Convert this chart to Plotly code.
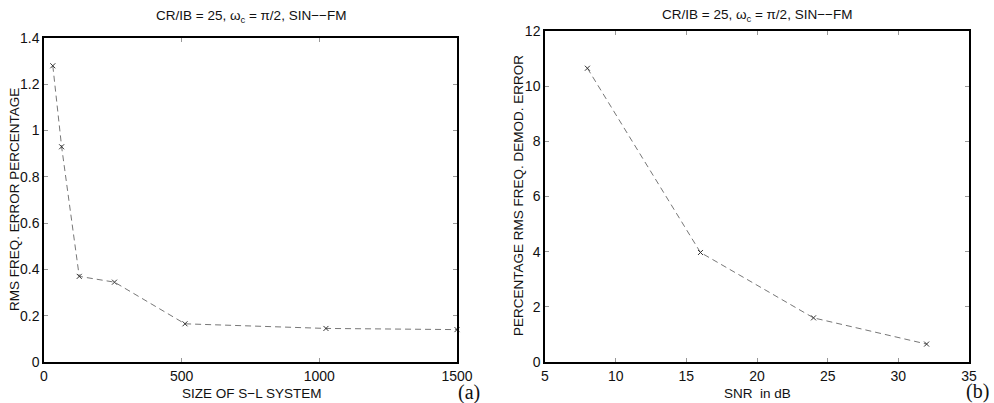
import plotly.graph_objects as go

# Panel (a)
size_sl = [32, 64, 128, 256, 512, 1024, 1500]
rms_err_a = [1.28, 0.93, 0.37, 0.345, 0.165, 0.145, 0.14]
# Panel (b)
snr_db = [8, 16, 24, 32]
rms_err_b = [10.65, 3.97, 1.6, 0.65]

title_txt = "CR/IB = 25, ω<sub>c</sub> = π/2, SIN−−FM"

W, H = 994, 403
fig = go.Figure()
line_style = dict(color="#777777", width=1, dash="6px,4px")
marker_style = dict(symbol="x-thin", size=5, color="#333333", line=dict(width=1, color="#333333"))

fig.add_trace(go.Scatter(x=size_sl, y=rms_err_a, mode="lines+markers", line=line_style,
                         marker=marker_style, xaxis="x", yaxis="y", cliponaxis=False, showlegend=False))
fig.add_trace(go.Scatter(x=snr_db, y=rms_err_b, mode="lines+markers", line=line_style,
                         marker=marker_style, xaxis="x2", yaxis="y2", cliponaxis=False, showlegend=False))

font = dict(family="Liberation Sans, Arial, sans-serif", size=14, color="#111111")
ax_common = dict(showline=True, linecolor="black", linewidth=1.5, mirror="ticks", ticks="inside",
                 ticklen=4, tickcolor="#999999", showgrid=False, zeroline=False, tickfont=font,
                 automargin=False)

def px_x(p):
    return p / W

def px_y(p):
    return (H - p) / H

fig.update_layout(
    width=W, height=H, margin=dict(l=0, r=0, t=0, b=0, pad=0),
    paper_bgcolor="white", plot_bgcolor="white",
    xaxis=dict(domain=[px_x(44), px_x(457)], range=[0, 1500], tickvals=[0, 500, 1000, 1500], anchor="y", **ax_common),
    yaxis=dict(domain=[px_y(362), px_y(38)], range=[0, 1.4], tickvals=[0, 0.2, 0.4, 0.6, 0.8, 1, 1.2, 1.4],
               ticktext=["0", "0.2", "0.4", "0.6", "0.8", "1", "1.2", "1.4"], anchor="x", **ax_common),
    xaxis2=dict(domain=[px_x(545), px_x(969)], range=[5, 35], tickvals=[5, 10, 15, 20, 25, 30, 35], anchor="y2", **ax_common),
    yaxis2=dict(domain=[px_y(362), px_y(31)], range=[0, 12], tickvals=[0, 2, 4, 6, 8, 10, 12], anchor="x2", **ax_common),
)

ann_font = dict(family="Liberation Sans, Arial, sans-serif", size=13.5, color="#111111")
anns = [
    dict(text=title_txt, x=px_x(251), y=px_y(16), font=ann_font),
    dict(text=title_txt, x=px_x(757), y=px_y(15), font=ann_font),
    dict(text="SIZE OF S−L SYSTEM", x=px_x(251), y=px_y(393), font=ann_font),
    dict(text="SNR  in dB", x=px_x(757), y=px_y(393), font=ann_font),
    dict(text="RMS FREQ. ERROR PERCENTAGE", x=px_x(14), y=px_y(200), font=ann_font, textangle=-90),
    dict(text="PERCENTAGE RMS FREQ. DEMOD. ERROR", x=px_x(518), y=px_y(196), font=ann_font, textangle=-90),
    dict(text="(a)", x=px_x(469), y=px_y(392), font=dict(family="Liberation Serif, Times New Roman, serif", size=20, color="#111111")),
    dict(text="(b)", x=px_x(977), y=px_y(391), font=dict(family="Liberation Serif, Times New Roman, serif", size=20, color="#111111")),
]
for a in anns:
    a.update(xref="paper", yref="paper", showarrow=False, xanchor="center", yanchor="middle")
    fig.add_annotation(**a)

fig.write_html("out.html", config={"displayModeBar": False},
               post_script="document.body.style.margin='0';document.body.style.overflow='hidden';")
